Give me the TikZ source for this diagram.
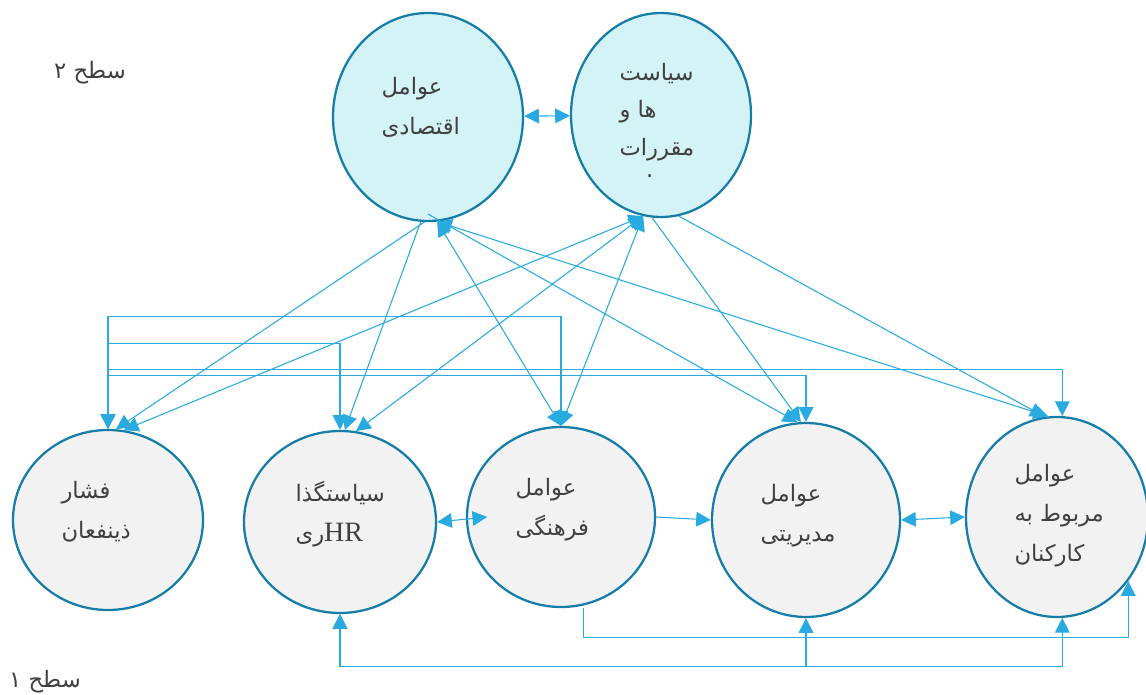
\documentclass[tikz,border=0pt]{standalone}
\usepackage{fontspec}
\usetikzlibrary{shapes.geometric, arrows.meta}
\newfontfamily\arabicfont[Script=Arabic]{DejaVu Sans}
\newfontfamily\hrfont{Liberation Serif}
\TeXXeTstate=1
\definecolor{arrc}{RGB}{41,171,226}
\definecolor{ringc}{RGB}{22,125,168}
\definecolor{topfill}{RGB}{212,243,247}
\definecolor{lowfill}{RGB}{242,242,242}
\definecolor{txtc}{RGB}{64,64,64}
\tikzset{
  factor/.style={ellipse, draw=ringc, line width=1.7pt, inner sep=0pt},
  lvltwo/.style={factor, fill=topfill},
  lvlone/.style={factor, fill=lowfill},
  lbl/.style={font=\arabicfont\fontsize{17}{30}\selectfont, text=txtc, align=left, inner sep=0pt, anchor=base west}
}
\begin{document}
\begin{tikzpicture}[x=0.75pt, y=-0.75pt, ->, >={Triangle[length=11pt,width=11pt]}, color=arrc, line width=0.8pt]
\useasboundingbox (0,0) rectangle (1146,695);
\node[lvltwo, minimum width=142.5pt, minimum height=156pt] (E) at (428,117) {};
\node[lvltwo, minimum width=135pt, minimum height=153pt] (P) at (661,115) {};
\node[lvlone, minimum width=142.5pt, minimum height=135pt] (F) at (108,520) {};
\node[lvlone, minimum width=144pt, minimum height=136.5pt] (H) at (340,522) {};
\node[lvlone, minimum width=141pt, minimum height=135pt] (C) at (561,517) {};
\node[lvlone, minimum width=141pt, minimum height=145.5pt] (M) at (806,520) {};
\node[lvlone, minimum width=136.5pt, minimum height=150pt] (S) at (1057,517) {};
\node[lbl] (Et) at (381,135) {\beginR عوامل\endR\\\beginR اقتصادی\endR};
\node[lbl, font=\arabicfont\fontsize{17}{28}\selectfont] (Pt) at (619,178) {\beginR سیاست\endR\\\beginR ها و\endR\\\beginR مقررات\endR\\[-11pt]\hspace*{20pt}.};
\node[lbl] (Ft) at (61,538) {\beginR فشار\endR\\\beginR ذینفعان\endR};
\node[lbl] (Ht) at (295,541) {\beginR سیاستگذا\endR\\\beginR\beginL{\hrfont\fontsize{21}{30}\selectfont HR}\endL{}ری\endR};
\node[lbl] (Ct) at (515,535) {\beginR عوامل\endR\\\beginR فرهنگی\endR};
\node[lbl] (Mt) at (760,541) {\beginR عوامل\endR\\\beginR مدیریتی\endR};
\node[lbl] (St) at (1014,561) {\beginR عوامل\endR\\\beginR مربوط به\endR\\\beginR کارکنان\endR};
\node[lbl, anchor=center] (lvl2) at (90,73) {\beginR سطح ۲\endR};
\node[lbl, anchor=center] (lvl1) at (45,682) {\beginR سطح ۱\endR};
\path (E) edge[<->] (P);
\path (E.268) edge (F.85);
\path (E.266) edge (H.87);
\path (C.north) edge[<->] (E.275);
\path (S.95) edge[<->] (E.275);
\path ([yshift=6pt]E.south) edge (M.95);
\path (F.80) edge[<->] (P.260);
\path (H.80) edge[<->] (P.260);
\path (C.north) edge[<->] (P.260);
\path (P.265) edge (M.93);
\path (P.280) edge (S.97);
\draw[<->] (F.north) -- ++(0,-112) -| (C.north);
\draw[<->] (F.north) -- ++(0,-85) -| (H.north);
\draw[<->] (F.north) -- ++(0,-59) -| (S.87);
\draw[<->] (F.north) -- ++(0,-53) -| (M.north);
\path (H.east) edge[<->] ([xshift=16pt]C.west);
\path (C.east) edge (M.west);
\path (M.east) edge[<->] (S.west);
\draw ([xshift=17pt]C.south) -- ++(0,29) -| (S.-42);
\draw[<->] (H.south) -- ++(0,52) -| (M.south);
\draw[<->] (H.south) -- ++(0,52) -| (S.-87);
\end{tikzpicture}
\end{document}
